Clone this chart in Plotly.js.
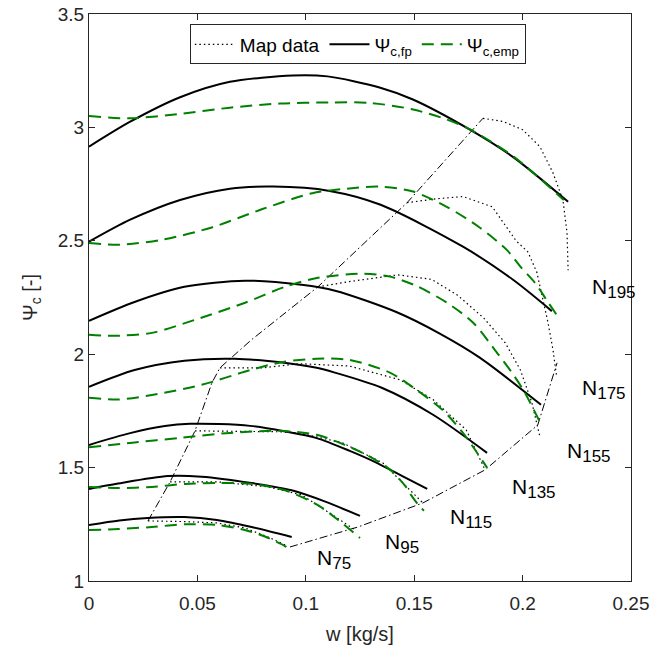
<!DOCTYPE html>
<html>
<head>
<meta charset="utf-8">
<script src="https://cdn.plot.ly/plotly-3.0.1.min.js"></script>
<style>html,body{margin:0;padding:0;background:#fff;}#chart{width:657px;height:651px;}</style>
</head>
<body>
<div id="chart"></div>
<script>
// ---- tick values ----
const wTicks = [0, 0.05, 0.1, 0.15, 0.2, 0.25];
const psiTicks = [1, 1.5, 2, 2.5, 3, 3.5];

// ---- speed lines (N75 ... N195) ----
const speedLabels = ['75', '95', '115', '135', '155', '175', '195'];

// first-principles model  Psi_c,fp
const fpW = [
  [0, 0.014, 0.027, 0.044, 0.059, 0.075, 0.0935],
  [0, 0.0134, 0.0364, 0.052, 0.075, 0.0935, 0.109, 0.125],
  [0, 0.019, 0.035, 0.0466, 0.06, 0.0743, 0.09, 0.105, 0.12, 0.133, 0.145, 0.156],
  [0, 0.021, 0.044, 0.067, 0.09, 0.105, 0.113, 0.135, 0.1587, 0.1836],
  [0, 0.021, 0.044, 0.072, 0.098, 0.1135, 0.142, 0.162, 0.1804, 0.2085],
  [0, 0.019, 0.042, 0.065, 0.085, 0.111, 0.1342, 0.1725, 0.1956, 0.2135],
  [0, 0.019, 0.042, 0.065, 0.094, 0.11, 0.134, 0.1494, 0.1757, 0.1955, 0.221]
];
const fpPsi = [
  [1.247, 1.267, 1.278, 1.282, 1.269, 1.238, 1.194],
  [1.406, 1.43, 1.463, 1.46, 1.432, 1.40, 1.35, 1.287],
  [1.600, 1.652, 1.683, 1.693, 1.692, 1.684, 1.66, 1.63, 1.575, 1.52, 1.46, 1.406],
  [1.856, 1.93, 1.971, 1.98, 1.962, 1.94, 1.92, 1.852, 1.733, 1.565],
  [2.147, 2.23, 2.297, 2.324, 2.306, 2.28, 2.185, 2.09, 1.984, 1.777],
  [2.496, 2.593, 2.68, 2.73, 2.739, 2.72, 2.66, 2.474, 2.328, 2.19],
  [2.915, 3.025, 3.133, 3.201, 3.229, 3.225, 3.176, 3.123, 2.99, 2.87, 2.672]
];

// empirical model  Psi_c,emp
const empW = [
  [0, 0.0134, 0.029, 0.0443, 0.0595, 0.0719, 0.0811, 0.0904, 0.0927],
  [0, 0.0134, 0.029, 0.0446, 0.06, 0.0752, 0.0904, 0.1056, 0.1148, 0.125],
  [0, 0.02, 0.042, 0.065, 0.088, 0.105, 0.118, 0.128, 0.139, 0.1462, 0.1485, 0.152, 0.1545],
  [0, 0.0134, 0.029, 0.052, 0.0743, 0.0895, 0.105, 0.12, 0.139, 0.151, 0.163, 0.1725, 0.1836],
  [0, 0.0106, 0.029, 0.049, 0.072, 0.0904, 0.1056, 0.1263, 0.1388, 0.1513, 0.1651, 0.1771, 0.1882, 0.1951, 0.2011, 0.208],
  [0, 0.0143, 0.034, 0.057, 0.080, 0.103, 0.119, 0.134, 0.1495, 0.165, 0.18, 0.1927, 0.199, 0.2057, 0.211, 0.2157],
  [0, 0.019, 0.042, 0.065, 0.088, 0.111, 0.1296, 0.149, 0.165, 0.176, 0.196, 0.219]
];
const empPsi = [
  [1.225, 1.229, 1.238, 1.25, 1.247, 1.225, 1.196, 1.154, 1.137],
  [1.415, 1.41, 1.415, 1.428, 1.432, 1.428, 1.40, 1.335, 1.27, 1.19],
  [1.59, 1.61, 1.631, 1.653, 1.662, 1.645, 1.60, 1.556, 1.49, 1.415, 1.38, 1.335, 1.31],
  [1.808, 1.80, 1.82, 1.865, 1.93, 1.966, 1.98, 1.975, 1.918, 1.843, 1.755, 1.653, 1.50],
  [2.086, 2.081, 2.094, 2.152, 2.227, 2.297, 2.337, 2.355, 2.342, 2.30, 2.227, 2.14, 2.006, 1.918, 1.83, 1.70],
  [2.49, 2.483, 2.505, 2.56, 2.64, 2.71, 2.73, 2.739, 2.717, 2.65, 2.56, 2.46, 2.386, 2.315, 2.24, 2.174],
  [3.05, 3.04, 3.06, 3.087, 3.105, 3.11, 3.108, 3.08, 3.035, 2.99, 2.87, 2.68]
];

// compressor map data
const mapW = [
  [0.0272, 0.044, 0.059, 0.0719, 0.0826, 0.0917],
  [0.0374, 0.0595, 0.0826, 0.098, 0.1135, 0.1227],
  [0.0489, 0.073, 0.088, 0.097, 0.117, 0.1356, 0.1434, 0.1481, 0.154],
  [0.0604, 0.08, 0.0973, 0.12, 0.1435, 0.1587, 0.174, 0.1827],
  [0.1056, 0.12, 0.1425, 0.158, 0.170, 0.182, 0.192, 0.199, 0.2043, 0.208],
  [0.1467, 0.16, 0.1725, 0.186, 0.197, 0.2025, 0.2066, 0.2095, 0.2117, 0.214, 0.2157],
  [0.1817, 0.191, 0.200, 0.208, 0.214, 0.2186, 0.2205, 0.221]
];
const mapPsi = [
  [1.265, 1.262, 1.256, 1.234, 1.194, 1.154],
  [1.437, 1.437, 1.415, 1.38, 1.284, 1.225],
  [1.662, 1.658, 1.658, 1.653, 1.609, 1.52, 1.446, 1.40, 1.344],
  [1.94, 1.94, 1.958, 1.948, 1.887, 1.80, 1.666, 1.49],
  [2.297, 2.32, 2.35, 2.33, 2.26, 2.16, 2.05, 1.93, 1.786, 1.635],
  [2.668, 2.685, 2.695, 2.65, 2.50, 2.45, 2.36, 2.24, 2.14, 2.02, 1.90],
  [3.04, 3.026, 2.99, 2.915, 2.80, 2.68, 2.535, 2.37]
];

// surge and choke lines of the map
const surgeW = [0.0272, 0.0374, 0.0489, 0.0567, 0.0604, 0.075, 0.1056, 0.1467, 0.1817];
const surgePsi = [1.265, 1.437, 1.662, 1.874, 1.94, 2.064, 2.297, 2.668, 3.04];
const chokeW = [0.0927, 0.124, 0.154, 0.1827, 0.207, 0.2159];
const chokePsi = [1.15, 1.238, 1.344, 1.49, 1.688, 1.962];

// label anchor positions for the speed names
const labelW = [0.1042, 0.1356, 0.1656, 0.1942, 0.2196, 0.2265, 0.2311];
const labelPsi = [1.095, 1.164, 1.274, 1.407, 1.568, 1.846, 2.291];

const FONT = 'Liberation Sans, Arial, Helvetica, sans-serif';
const GREEN = '#008000';
const AX = '#262626';

const traces = [];
mapW.forEach((w, i) => traces.push({
  x: w, y: mapPsi[i], type: 'scatter', mode: 'lines',
  name: 'Map data', legendgroup: 'map', showlegend: i === 0,
  line: {color: '#000', width: 1.2, dash: '1.5px,3px'}
}));
traces.push({x: surgeW, y: surgePsi, type: 'scatter', mode: 'lines', showlegend: false,
  line: {color: '#000', width: 1, dash: '8px,3px,1.5px,3px'}});
traces.push({x: chokeW, y: chokePsi, type: 'scatter', mode: 'lines', showlegend: false,
  line: {color: '#000', width: 1, dash: '8px,3px,1.5px,3px'}});
fpW.forEach((w, i) => traces.push({
  x: w, y: fpPsi[i], type: 'scatter', mode: 'lines',
  name: '\u03A8<sub>c,fp</sub>', legendgroup: 'fp', showlegend: i === 0,
  line: {color: '#000', width: 2, shape: 'spline', smoothing: 0.8}
}));
empW.forEach((w, i) => traces.push({
  x: w, y: empPsi[i], type: 'scatter', mode: 'lines',
  name: '\u03A8<sub>c,emp</sub>', legendgroup: 'emp', showlegend: i === 0,
  line: {color: GREEN, width: 2, dash: '12px,7px', shape: 'spline', smoothing: 0.8}
}));

const annotations = speedLabels.map((s, i) => ({
  x: labelW[i], y: labelPsi[i], xref: 'x', yref: 'y',
  xanchor: 'left', yanchor: 'middle', showarrow: false,
  text: 'N<sub><span style="font-size:17px">' + s + '</span></sub>',
  font: {family: FONT, size: 21, color: '#000'}
}));

const layout = {
  width: 657, height: 651,
  margin: {l: 89, r: 26, t: 14, b: 70},
  paper_bgcolor: '#fff', plot_bgcolor: '#fff',
  font: {family: FONT, size: 19, color: AX},
  showlegend: true,
  legend: {
    orientation: 'h', x: 0.496, xanchor: 'center', y: 0.9815, yanchor: 'top',
    bgcolor: '#fff', bordercolor: AX, borderwidth: 1,
    font: {family: FONT, size: 19, color: '#000'}, itemwidth: 40
  },
  xaxis: {
    range: [0, 0.25], tickvals: wTicks, ticks: 'inside', ticklen: 6, tickcolor: AX,
    showline: true, linecolor: AX, linewidth: 1, mirror: 'ticks',
    showgrid: false, zeroline: false, ticklabelstandoff: 5,
    tickfont: {family: FONT, size: 19, color: AX},
    title: {text: 'w [kg/s]', font: {family: FONT, size: 20, color: AX}, standoff: 14}
  },
  yaxis: {
    range: [1, 3.5], tickvals: psiTicks, ticks: 'inside', ticklen: 6, tickcolor: AX,
    showline: true, linecolor: AX, linewidth: 1, mirror: 'ticks',
    showgrid: false, zeroline: false,
    tickfont: {family: FONT, size: 19, color: AX},
    title: {text: '\u03A8<sub>c</sub> [-]', font: {family: FONT, size: 20, color: AX}, standoff: 14}
  },
  annotations: annotations
};

Plotly.newPlot('chart', traces, layout, {displayModeBar: false, staticPlot: true});
</script>
</body>
</html>
